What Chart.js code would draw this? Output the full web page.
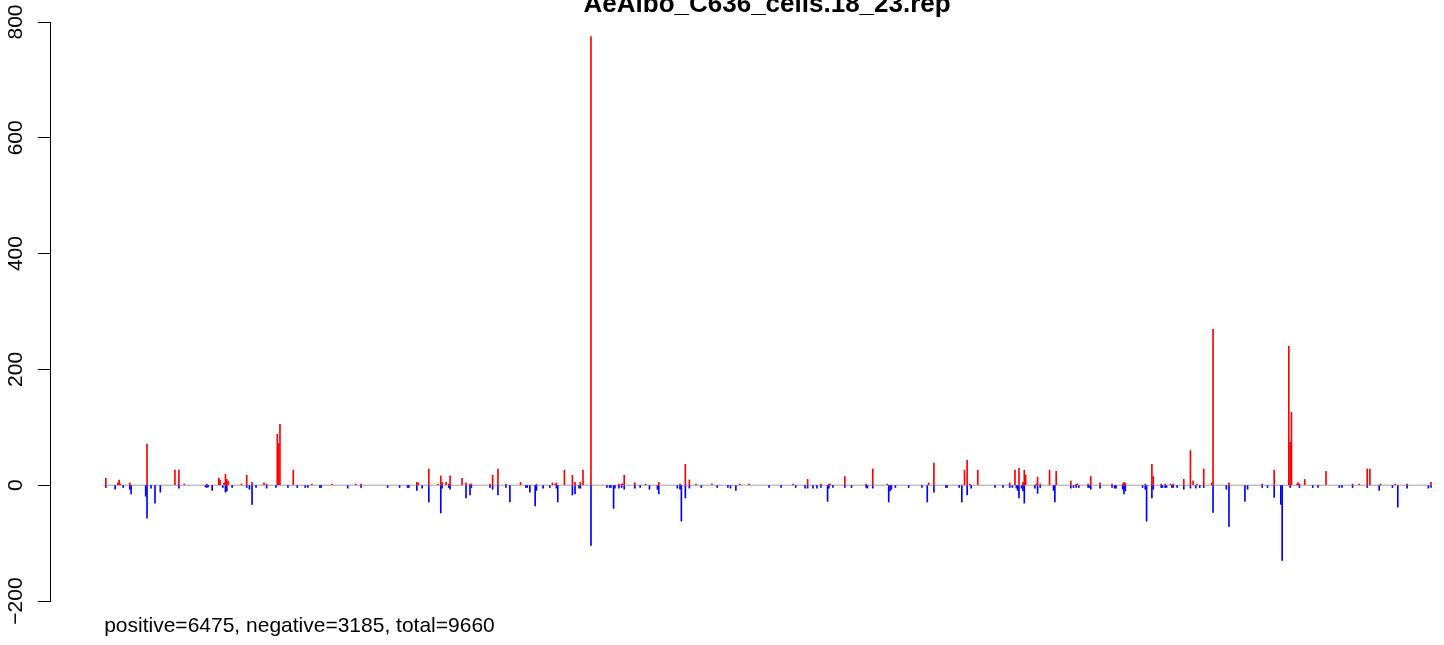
<!DOCTYPE html>
<html>
<head>
<meta charset="utf-8">
<script src="https://cdn.jsdelivr.net/npm/chart.js@4"></script>
<style>
  body { margin: 0; background: #fff; }
  canvas { display: block; }
</style>
</head>
<body>
<canvas id="myChart" width="1444" height="645"></canvas>
<script>
// title and footer text
const titleText = "AeAlbo_C636_cells.18_23.rep";
const footerText = "positive=6475, negative=3185, total=9660";

// y axis ticks
const yTicks = [-200, 0, 200, 400, 600, 800];

// positions along the sequence (0..999) with a positive count
const posIdx = [2, 11, 12, 13, 20, 33, 54, 57, 61, 78,
	87, 88, 91, 92, 93, 94, 104, 108, 112, 121,
	123, 131, 132, 133, 143, 157, 172, 190, 194, 236,
	237, 245, 252, 254, 255, 258, 260, 261, 270, 273,
	276, 277, 291, 293, 297, 303, 314, 326, 338, 340,
	341, 347, 353, 355, 359, 361, 367, 388, 390, 391,
	392, 400, 408, 418, 434, 438, 441, 446, 458, 479,
	486, 519, 530, 540, 546, 547, 558, 574, 579, 590,
	621, 625, 648, 650, 652, 658, 682, 686, 689, 692,
	693, 694, 702, 703, 705, 712, 717, 728, 732, 733,
	741, 743, 750, 759, 767, 768, 769, 784, 789, 790,
	796, 799, 803, 805, 813, 818, 820, 823, 828, 834,
	835, 847, 872, 881, 892, 893, 894, 898, 899, 900,
	904, 920, 940, 945, 951, 953, 961, 972, 981, 999];
const posVal = [12, 4, 9, 2, 4, 71, 26, 26, 2, 2,
	12, 9, 4, 19, 10, 7, 2, 17, 5, 4,
	2, 88, 72, 105, 26, 2, 2, 2, 2, 5,
	4, 28, 2, 16, 5, 5, 2, 16, 12, 4,
	2, 2, 2, 17, 28, 2, 5, 2, 4, 2,
	4, 26, 17, 5, 5, 26, 775, 2, 2, 2,
	17, 4, 2, 5, 2, 36, 9, 2, 2, 2,
	2, 2, 10, 2, 2, 2, 15, 2, 28, 2,
	4, 38, 26, 43, 2, 26, 4, 26, 29, 5,
	26, 17, 2, 14, 2, 26, 24, 7, 2, 2,
	2, 15, 4, 2, 2, 5, 3, 2, 36, 15,
	2, 2, 2, 2, 10, 60, 7, 2, 28, 4,
	269, 4, 2, 26, 240, 74, 126, 2, 4, 2,
	10, 24, 2, 2, 28, 28, 2, 2, 2, 5];

// positions with a negative count
const negIdx = [2, 9, 15, 20, 21, 32, 33, 36, 39, 43,
	57, 77, 78, 79, 82, 90, 92, 93, 97, 108,
	110, 112, 115, 123, 130, 139, 146, 152, 154, 163,
	164, 184, 194, 214, 223, 229, 230, 236, 240, 245,
	254, 255, 260, 261, 273, 276, 277, 291, 293, 297,
	303, 306, 318, 319, 321, 325, 326, 331, 336, 341,
	342, 353, 355, 358, 359, 367, 379, 381, 382, 384,
	385, 388, 390, 392, 400, 404, 411, 417, 418, 432,
	434, 435, 438, 441, 450, 462, 470, 472, 476, 501,
	510, 521, 528, 530, 534, 537, 540, 545, 546, 549,
	558, 563, 574, 575, 579, 591, 592, 593, 596, 606,
	616, 620, 625, 634, 635, 644, 646, 650, 653, 671,
	677, 682, 684, 687, 688, 689, 691, 692, 693, 701,
	703, 705, 715, 716, 728, 730, 732, 734, 741, 742,
	743, 750, 759, 761, 762, 767, 768, 769, 782, 784,
	785, 789, 790, 796, 797, 799, 800, 804, 805, 808,
	813, 818, 822, 825, 828, 835, 845, 847, 859, 861,
	872, 876, 881, 886, 887, 893, 900, 910, 914, 930,
	932, 940, 951, 960, 970, 974, 981, 997, 999];
const negVal = [-4, -7, -4, -7, -15, -19, -57, -5, -31, -12,
	-5, -3, -4, -3, -9, -4, -12, -10, -4, -4,
	-7, -33, -4, -5, -4, -4, -4, -4, -4, -4,
	-4, -5, -4, -4, -4, -4, -4, -9, -5, -29,
	-48, -5, -4, -7, -22, -17, -4, -4, -7, -17,
	-4, -29, -4, -4, -12, -36, -9, -5, -4, -5,
	-29, -17, -15, -5, -5, -104, -4, -4, -4, -40,
	-5, -5, -4, -7, -5, -4, -7, -7, -15, -5,
	-7, -62, -22, -5, -4, -4, -4, -5, -9, -4,
	-4, -4, -5, -5, -5, -5, -4, -28, -5, -4,
	-4, -4, -4, -5, -5, -29, -10, -7, -4, -4,
	-4, -29, -12, -4, -4, -4, -29, -17, -5, -4,
	-4, -4, -4, -5, -9, -22, -5, -10, -31, -5,
	-14, -4, -9, -29, -5, -4, -4, -4, -4, -4,
	-7, -5, -4, -5, -5, -7, -15, -10, -4, -7,
	-62, -22, -7, -4, -4, -4, -4, -4, -4, -4,
	-7, -5, -5, -4, -4, -47, -7, -71, -28, -7,
	-4, -4, -21, -33, -130, -4, -4, -4, -4, -4,
	-4, -4, -4, -9, -4, -38, -5, -5, -4];

// ends of the zero line
const seqStart = 0;
const seqEnd = 999;

const posData = posIdx.map((x, i) => ({ x: x, y: posVal[i] }));
const negData = negIdx.map((x, i) => ({ x: x, y: negVal[i] }));

const fontName = "'Liberation Sans', Arial, Helvetica, sans-serif";

// draws title, footer and rotated y labels like R does
const textPlugin = {
	id: "rText",
	afterDraw(chart) {
		const ctx = chart.ctx;
		const xs = chart.scales.x;
		const ys = chart.scales.y;
		ctx.save();
		ctx.fillStyle = "#000";
		// title
		ctx.font = "bold 26px " + fontName;
		ctx.textAlign = "center";
		ctx.textBaseline = "alphabetic";
		ctx.fillText(titleText, xs.getPixelForValue((seqStart + seqEnd) / 2), 12);
		// footer
		ctx.font = "21px " + fontName;
		ctx.textAlign = "left";
		ctx.fillText(footerText, xs.getPixelForValue(seqStart) + 1, 632);
		// y labels
		ctx.font = "21px " + fontName;
		ctx.textAlign = "center";
		ys.ticks.forEach((t) => {
			const y = ys.getPixelForValue(t.value);
			ctx.save();
			ctx.translate(22, y);
			ctx.rotate(-Math.PI / 2);
			ctx.fillText(String(t.value).replace("-", "\u2212"), 0, 0);
			ctx.restore();
		});
		ctx.restore();
	},
};

new Chart(document.getElementById("myChart"), {
	data: {
		datasets: [
			{
				type: "bar",
				data: posData,
				backgroundColor: "#ff0000",
				borderWidth: 0,
				barThickness: 1,
				grouped: false,
				order: 1,
			},
			{
				type: "bar",
				data: negData,
				backgroundColor: "#0000ff",
				borderWidth: 0,
				barThickness: 1,
				grouped: false,
				order: 1,
			},
			{
				type: "line",
				data: [{ x: seqStart, y: 0 }, { x: seqEnd, y: 0 }],
				borderColor: "#a0a0a0",
				borderWidth: 1,
				pointRadius: 0,
				order: 3,
			},
		],
	},
	options: {
		responsive: false,
		animation: false,
		layout: {
			padding: { top: 22, bottom: 44, left: 0, right: 5 },
		},
		scales: {
			x: {
				type: "linear",
				min: -40,
				max: 1005,
				offset: false,
				display: false,
			},
			y: {
				min: yTicks[0],
				max: yTicks[yTicks.length - 1],
				afterBuildTicks: (scale) => {
					scale.ticks = yTicks.map((v) => ({ value: v }));
				},
				afterFit: (scale) => {
					scale.width = 50;
				},
				ticks: { display: false },
				grid: {
					drawOnChartArea: false,
					drawTicks: true,
					tickLength: 12,
					color: "#000",
					lineWidth: 1,
				},
				border: { display: true, color: "#000", width: 1 },
			},
		},
		plugins: {
			legend: { display: false },
			tooltip: { enabled: false },
		},
	},
	plugins: [textPlugin],
});
</script>
</body>
</html>
